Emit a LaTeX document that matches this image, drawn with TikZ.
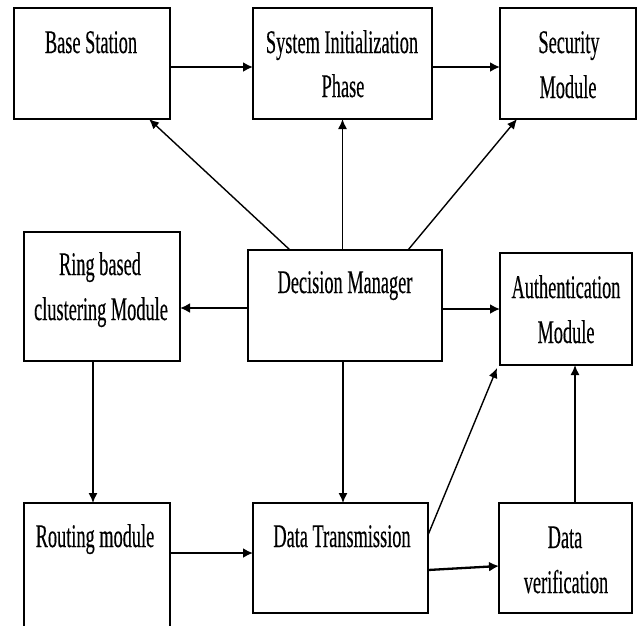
\documentclass[tikz,border=0pt]{standalone}
\usepackage{fontspec}
\newfontfamily\cf[FakeStretch=0.555,FakeBold=0.3]{Liberation Serif}
\usetikzlibrary{arrows.meta}
\begin{document}
\begin{tikzpicture}[x=1pt,y=-1pt,
  box/.style={draw=black,line width=1.5pt,minimum width=#1,inner sep=0pt,outer sep=0pt},
  ghost/.style={draw=none,inner sep=0pt,outer sep=0pt},
  txt/.style={anchor=base,inner sep=0pt,outer sep=0pt,font=\cf\fontsize{33}{46}\selectfont},
  arr/.style={line width=1.4pt,-{Latex[length=10pt,width=9pt]}},
  harr/.style={line width=2.3pt,-{Latex[length=10pt,width=10pt]}}]
\useasboundingbox (0,0) rectangle (637,625);
% boxes
\node[box=156pt,minimum height=111pt] (bs) at (92,63.5) {};
\node[box=179pt,minimum height=111pt] (si) at (342.5,63.5) {};
\node[box=136pt,minimum height=111pt] (sm) at (568,63.5) {};
\node[box=156pt,minimum height=129pt] (rb) at (102,296.5) {};
\node[box=194pt,minimum height=111pt] (dm) at (345,305.5) {};
\node[box=132pt,minimum height=112pt] (am) at (566,309) {};
\node[ghost,minimum width=146pt,minimum height=124pt] (rt) at (97,565) {};
\draw[line width=1.5pt] (rt.south west) -- (rt.north west) -- (rt.north east) -- (rt.south east);
\node[box=175pt,minimum height=110pt] (dt) at (340.5,558) {};
\node[box=133pt,minimum height=110pt] (dv) at (565.5,558) {};
% texts
\node[txt] (bs1) at (91,53) {Base Station};
\node[txt] (si1) at (342,53) {System Initialization};
\node[txt] (si2) at (343,97) {Phase};
\node[txt] (sm1) at (569,53) {Security};
\node[txt] (sm2) at (568,98) {Module};
\node[txt] (rb1) at (100,275) {Ring based};
\node[txt] (rb2) at (101,320) {clustering Module};
\node[txt] (dm1) at (345,293) {Decision Manager};
\node[txt] (am1) at (566,298) {Authentication};
\node[txt] (am2) at (566,343) {Module};
\node[txt] (rt1) at (95,547) {Routing module};
\node[txt] (dt1) at (342,547) {Data Transmission};
\node[txt] (dv1) at (565,548) {Data};
\node[txt] (dv2) at (566,593) {verification};
% connectors
\draw[harr] ([yshift=-3.5pt]bs.east) -- ([yshift=-3.5pt]si.west);
\draw[harr] ([yshift=-3.5pt]si.east) -- ([yshift=-3.5pt]sm.west);
\draw[arr] ([xshift=-55pt]dm.north) -- ([xshift=57pt]bs.south);
\draw[arr] (dm.north -| si.south) -- (si.south);
\draw[arr] ([xshift=63pt]dm.north) -- ([xshift=-51pt]sm.south);
\draw[harr] ([yshift=-2.5pt]dm.west) coordinate (a1) -- (a1 -| rb.east);
\draw[harr] ([yshift=-3.5pt]dm.east) coordinate (a2) -- (a2 -| am.west);
\draw[arr] ([xshift=-9pt]rb.south) coordinate (a3) -- (a3 |- rt.north);
\draw[arr] ([xshift=-2pt]dm.south) coordinate (a4) -- (a4 |- dt.north);
\draw[harr] ([yshift=12pt]rt.east) coordinate (a5) -- (a5 -| dt.west);
\draw[arr] ([yshift=23pt]dt.east) -- ([shift={(-3pt,-3pt)}]am.south west);
\draw[harr] ([yshift=-12pt]dt.east) -- ([yshift=-8pt]dv.west);
\draw[arr] ([xshift=9.5pt]dv.north) coordinate (a6) -- (a6 |- am.south);
\end{tikzpicture}
\end{document}
